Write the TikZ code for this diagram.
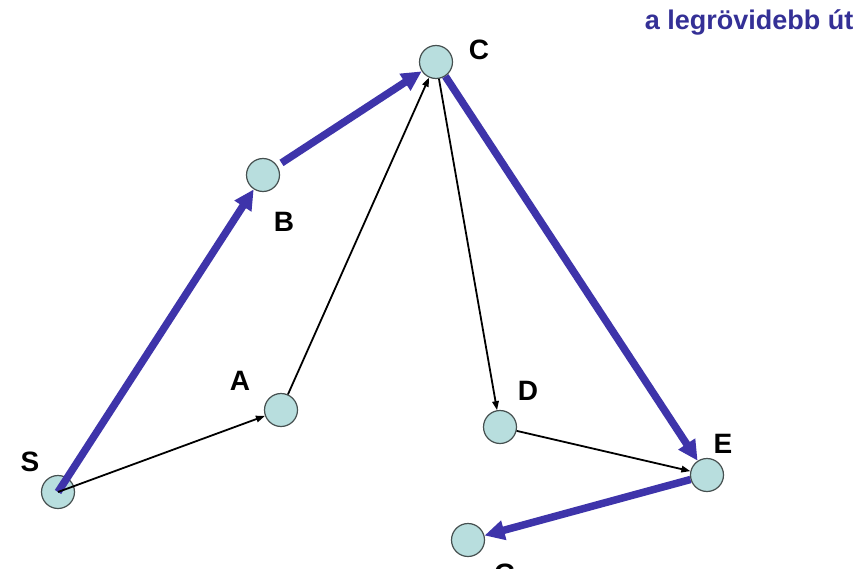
\documentclass[tikz,border=0pt]{standalone}
\usepackage{fontspec}
\setmainfont{Liberation Sans}
\usetikzlibrary{arrows.meta}
\definecolor{pathblue}{RGB}{62,52,170}
\definecolor{titleblue}{RGB}{52,48,150}
\definecolor{nodefill}{RGB}{184,222,222}
\definecolor{nodeline}{RGB}{70,80,80}
\begin{document}
\begin{tikzpicture}[x=1pt,y=-1pt,
  vert/.style={circle,draw=nodeline,fill=nodefill,line width=1.2pt,minimum size=33pt,inner sep=0pt},
  lab/.style={font=\bfseries\fontsize{28}{28}\selectfont,inner sep=0pt},
  thin/.style={black,line width=1.8pt,-{Triangle[length=9pt,width=6.5pt]}},
  thick/.style={pathblue,line width=7.5pt,-{Triangle[length=20pt,width=19pt]}}]
\clip (0,0) rectangle (866,569);
\fill[white] (0,0) rectangle (866,569);
\node[font=\bfseries\fontsize{27}{27}\selectfont,text=titleblue,anchor=east] (title) at (857,22) {a legrövidebb út};
% vertices
\node[vert] (S) at (58,492) {};
\node[vert] (A) at (281,410) {};
\node[vert] (B) at (263,175) {};
\node[vert] (C) at (436,62) {};
\node[vert] (D) at (500,427) {};
\node[vert] (E) at (707,475) {};
\node[vert] (G) at (468,540) {};
% labels
\node[lab] (lS) at (30,462) {S};
\node[lab] (lA) at (240,381) {A};
\node[lab] (lB) at (284,222) {B};
\node[lab] (lC) at (479,50) {C};
\node[lab] (lD) at (528,391) {D};
\node[lab] (lE) at (723,444) {E};
\node[lab] (lG) at (505,574) {G};
% edges
\draw[thick] (S.center) -- (B);
\draw[thin] (S.center) -- (A);
\draw[thin] (A) -- (C);
\draw[thick,shorten <=5pt] (B) -- (C);
\draw[thin] (C) -- (D);
\draw[thick] (C) -- (E);
\draw[thin] (D) -- (E);
\draw[thick] (E) -- (G);
\end{tikzpicture}
\end{document}
